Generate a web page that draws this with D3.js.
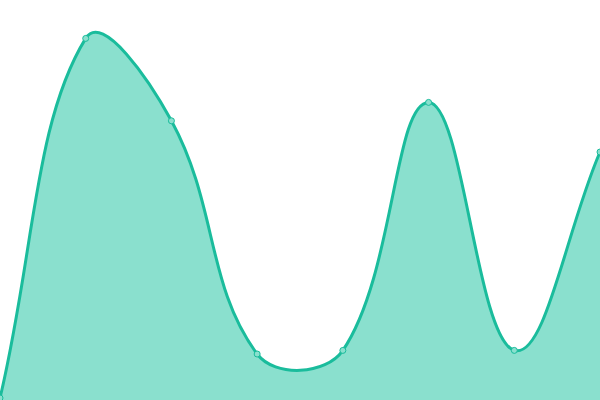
<!DOCTYPE html>
<html>
<head>
<meta charset="utf-8">
<script src="https://cdn.jsdelivr.net/npm/d3@7"></script>
<style>
  html, body { margin: 0; padding: 0; background: #fff; }
  svg { display: block; }
</style>
</head>
<body>
<script>
// data
let labels = ["A", "B", "C", "D", "E", "F", "G", "H"];
let values = [0.5, 90.4, 69.8, 11.5, 12.4, 74.4, 12.4, 62];

let w = 600;
let h = 400;
let tension = 0.4;

// spline with distance weighted control points (same idea as a tension 0.4 line)
function Spline(context) { this._context = context; }
Spline.prototype = {
    areaStart: function() { this._line = 0; },
    areaEnd: function() { this._line = NaN; },
    lineStart: function() { this._x = []; this._y = []; },
    point: function(x, y) { this._x.push(+x); this._y.push(+y); },
    lineEnd: function() {
        let xs = this._x, ys = this._y, n = xs.length, c = this._context;
        if (n) {
            this._line ? c.lineTo(xs[0], ys[0]) : c.moveTo(xs[0], ys[0]);
            if (n === 2) {
                c.lineTo(xs[1], ys[1]);
            } else if (n > 2) {
                let cp = [];
                for (let i = 0; i < n; i++) {
                    let p = Math.max(i - 1, 0), q = Math.min(i + 1, n - 1);
                    let d01 = Math.hypot(xs[i] - xs[p], ys[i] - ys[p]);
                    let d12 = Math.hypot(xs[q] - xs[i], ys[q] - ys[i]);
                    let s01 = d01 / (d01 + d12) || 0;
                    let s12 = d12 / (d01 + d12) || 0;
                    let fa = tension * s01, fb = tension * s12;
                    cp[i] = {
                        px: xs[i] - fa * (xs[q] - xs[p]),
                        py: ys[i] - fa * (ys[q] - ys[p]),
                        nx: xs[i] + fb * (xs[q] - xs[p]),
                        ny: ys[i] + fb * (ys[q] - ys[p])
                    };
                }
                for (let i = 1; i < n; i++) {
                    c.bezierCurveTo(cp[i - 1].nx, cp[i - 1].ny, cp[i].px, cp[i].py, xs[i], ys[i]);
                }
            }
        }
        if (this._line || (this._line !== 0 && n === 1)) c.closePath();
        this._line = 1 - this._line;
        this._x = this._y = null;
    }
};
let curve = function(context) { return new Spline(context); };

let svg = d3.select("body")
    .append("svg")
    .attr("width", w)
    .attr("height", h);

let x = d3.scalePoint()
    .domain(labels)
    .range([0, w]);

let y = d3.scaleLinear()
    .domain([0, 100])
    .range([h, 0]);

let area = d3.area()
    .x(function(d, i) { return x(labels[i]); })
    .y0(h)
    .y1(function(d) { return y(d); })
    .curve(curve);

let line = d3.line()
    .x(function(d, i) { return x(labels[i]); })
    .y(function(d) { return y(d); })
    .curve(curve);

svg.append("path")
    .datum(values)
    .attr("fill", "#8ae0ce")
    .attr("d", area);

svg.append("path")
    .datum(values)
    .attr("fill", "none")
    .attr("stroke", "#1abc9c")
    .attr("stroke-width", 3)
    .attr("d", line);

svg.selectAll("circle")
    .data(values)
    .enter()
    .append("circle")
    .attr("cx", function(d, i) { return x(labels[i]); })
    .attr("cy", function(d) { return y(d); })
    .attr("r", 3)
    .attr("fill", "#8ae0ce")
    .attr("stroke", "#1abc9c")
    .attr("stroke-width", 1);
</script>
</body>
</html>
